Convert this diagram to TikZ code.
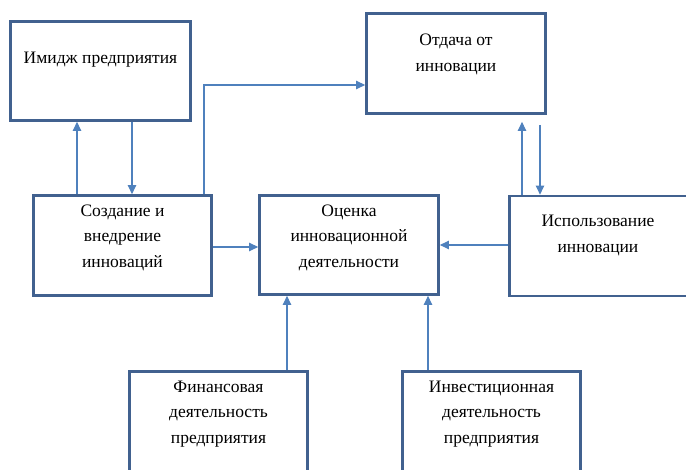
\documentclass[tikz,border=0pt]{standalone}
\usepackage{fontspec}
\setmainfont{Liberation Serif}
\usetikzlibrary{arrows.meta}
\definecolor{boxblue}{HTML}{41618F}
\definecolor{arrblue}{HTML}{4F81BD}
\tikzset{
  box/.style={draw=boxblue, line width=2.8pt, rectangle, inner sep=0pt, fill=none},
  lbl/.style={align=center, font=\fontsize{17.5}{25.5}\selectfont, inner sep=0pt, text=black},
  arr/.style={draw=arrblue, line width=1.1pt, -{Triangle[length=9pt,width=8.5pt]}},
}
\begin{document}
\begin{tikzpicture}[x=1pt,y=-1pt]
\useasboundingbox (0,0) rectangle (686,470);
\clip (0,0) rectangle (686,470);
% boxes
\node[box, minimum width=180pt, minimum height=99pt] (img) at (100.5,71) {};
\node[box, minimum width=179pt, minimum height=100pt] (ot) at (456,63.5) {};
\node[box, minimum width=178pt, minimum height=100pt] (cr) at (122.5,245.5) {};
\node[box, minimum width=179pt, minimum height=99pt] (oc) at (349,245) {};
\node[box, minimum width=179pt, minimum height=100pt] (isp) at (599,246) {};
\node[box, minimum width=178pt, minimum height=100pt] (fin) at (218.5,421.5) {};
\node[box, minimum width=178pt, minimum height=100pt] (inv) at (491.5,421.5) {};
% texts
\node[lbl] (timg) at (100.5,60) {Имидж предприятия};
\node[lbl] (tot) at (456,54.5) {Отдача от\\инновации};
\node[lbl] (tcr) at (122.5,237.5) {Создание и\\внедрение\\инноваций};
\node[lbl] (toc) at (349,237.5) {Оценка\\инновационной\\деятельности};
\node[lbl] (tisp) at (598,235.5) {Использование\\инновации};
\node[lbl] (tfin) at (218.5,414) {Финансовая\\деятельность\\предприятия};
\node[lbl] (tinv) at (491.5,414) {Инвестиционная\\деятельность\\предприятия};
% connectors
\draw[arr] (77,0 |- cr.north) -- (77,0 |- img.south);
\draw[arr] (132,0 |- img.south) -- (132,0 |- cr.north);
\draw[arr] (204,0 |- cr.north) |- (ot.west |- 0,85);
\draw[arr] (cr.east |- 0,247) -- (oc.west |- 0,247);
\draw[arr] (isp.west |- 0,245) -- (oc.east |- 0,245);
\draw[arr, shorten >=7pt] (522,0 |- isp.north) -- (522,0 |- ot.south);
\draw[arr, shorten <=10pt] (540,0 |- ot.south) -- (540,0 |- isp.north);
\draw[arr] (287,0 |- fin.north) -- (287,0 |- oc.south);
\draw[arr] (428,0 |- inv.north) -- (428,0 |- oc.south);
\end{tikzpicture}
\end{document}
